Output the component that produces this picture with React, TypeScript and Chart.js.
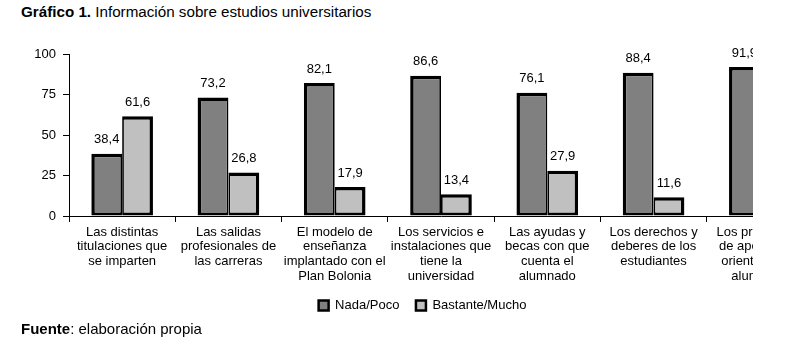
import React, { useEffect, useRef } from 'react';
import { Chart, registerables } from 'chart.js';

Chart.register(...registerables);

const categories: string[][] = [
  ['Las distintas', 'titulaciones que', 'se imparten'],
  ['Las salidas', 'profesionales de', 'las carreras'],
  ['El modelo de', 'enseñanza', 'implantado con el', 'Plan Bolonia'],
  ['Los servicios e', 'instalaciones que', 'tiene la', 'universidad'],
  ['Las ayudas y', 'becas con que', 'cuenta el', 'alumnado'],
  ['Los derechos y', 'deberes de los', 'estudiantes'],
  ['Los programas', 'de apoyo y de', 'orientación al', 'alumnado'],
];
const nadaPoco = [38.4, 73.2, 82.1, 86.6, 76.1, 88.4, 91.9];
const bastanteMucho = [61.6, 26.8, 17.9, 13.4, 27.9, 11.6, 8.1];
const yTicks = [0, 25, 50, 75, 100];
const seriesNames = ['Nada/Poco', 'Bastante/Mucho'];
const seriesColors = ['#808080', '#C0C0C0'];

const FONT = 'Arial, "Liberation Sans", sans-serif';

const valueLabels = {
  id: 'valueLabels',
  afterDatasetsDraw(chart: any) {
    const ctx = chart.ctx;
    ctx.save();
    ctx.font = `13px ${FONT}`;
    ctx.fillStyle = '#000';
    ctx.textAlign = 'center';
    ctx.textBaseline = 'middle';
    chart.data.datasets.forEach((ds: any, i: number) => {
      const meta = chart.getDatasetMeta(i);
      meta.data.forEach((bar: any, j: number) => {
        const v = ds.data[j] as number;
        ctx.fillText(v.toFixed(1).replace('.', ','), bar.x, bar.y - 14);
      });
    });
    ctx.restore();
  },
};

export default function App() {
  const canvasRef = useRef<HTMLCanvasElement | null>(null);

  useEffect(() => {
    if (!canvasRef.current) return;
    const chart = new Chart(canvasRef.current, {
      type: 'bar',
      data: {
        labels: categories as any,
        datasets: [
          {
            label: seriesNames[0],
            data: nadaPoco,
            backgroundColor: seriesColors[0],
            borderColor: '#000',
            borderWidth: { top: 3.5, left: 3.5, bottom: 3, right: 1.75 } as any,
            borderSkipped: false,
            categoryPercentage: 0.58,
            barPercentage: 1,
          },
          {
            label: seriesNames[1],
            data: bastanteMucho,
            backgroundColor: seriesColors[1],
            borderColor: '#000',
            borderWidth: { top: 3.5, left: 1.75, bottom: 3, right: 3.5 } as any,
            borderSkipped: false,
            categoryPercentage: 0.58,
            barPercentage: 1,
          },
        ],
      },
      options: {
        responsive: false,
        animation: false,
        devicePixelRatio: 1,
        events: [],
        layout: { padding: { left: 24, right: 37, top: 24, bottom: 0 } },
        plugins: {
          tooltip: { enabled: false },
          legend: {
            position: 'bottom',
            labels: {
              font: { family: FONT, size: 13 },
              color: '#000',
              boxWidth: 10,
              boxHeight: 10,
              padding: 16.5,
              generateLabels: () =>
                seriesNames.map((name, i) => ({
                  text: name,
                  fillStyle: seriesColors[i],
                  strokeStyle: '#000',
                  lineWidth: 2.5,
                  hidden: false,
                  datasetIndex: i,
                  fontColor: '#000',
                })),
            },
          },
        },
        scales: {
          x: {
            grid: {
              display: true,
              drawOnChartArea: false,
              offset: true,
              color: '#000',
              tickLength: 6,
              lineWidth: 1,
            },
            border: { color: '#000', width: 1 },
            ticks: {
              font: { family: FONT, size: 13, lineHeight: 1.12 },
              color: '#000',
              maxRotation: 0,
              minRotation: 0,
              autoSkip: false,
              padding: 3,
            },
            afterFit: (s: any) => {
              s.height = 66.5;
            },
          },
          y: {
            min: 0,
            max: 100,
            grid: { drawOnChartArea: false, color: '#000', tickLength: 6 },
            border: { color: '#000', width: 1 },
            ticks: {
              stepSize: 25,
              font: { family: FONT, size: 13 },
              color: '#000',
              padding: 7,
            },
            afterBuildTicks: (s: any) => {
              s.ticks = yTicks.map((v) => ({ value: v }));
            },
            afterFit: (s: any) => {
              s.width = 37;
            },
          },
        },
      },
      plugins: [valueLabels],
    } as any);
    return () => chart.destroy();
  }, []);

  return (
    <div style={{ position: 'absolute', left: 0, top: 0, width: 791, height: 350, overflow: 'hidden', background: '#fff', fontFamily: FONT, color: '#000' }}>
      <div style={{ position: 'absolute', left: 21, top: 4, fontSize: 15.2, lineHeight: '15px', whiteSpace: 'nowrap' }}>
        <b>Gráfico 1.</b> Información sobre estudios universitarios
      </div>
      <div style={{ position: 'absolute', left: 8, top: 30, width: 745, height: 292, overflow: 'hidden' }}>
        <canvas ref={canvasRef} width={842} height={292} style={{ display: 'block' }} />
      </div>
      <div style={{ position: 'absolute', left: 21, top: 321, fontSize: 15, lineHeight: '15px', whiteSpace: 'nowrap' }}>
        <b>Fuente</b>: elaboración propia
      </div>
    </div>
  );
}
